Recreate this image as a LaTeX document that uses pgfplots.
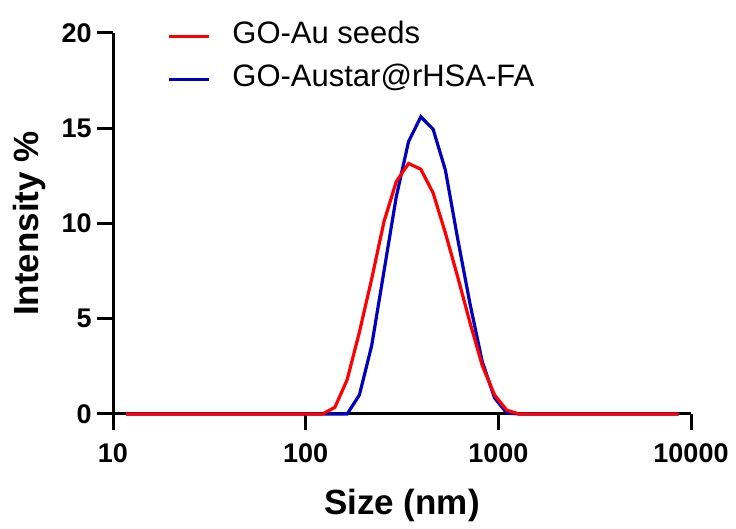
\documentclass[border=0pt]{standalone}
\usepackage{fontspec}
\setmainfont{Liberation Sans}
\usepackage{pgfplots}
\pgfplotsset{compat=1.18}
\definecolor{seedred}{RGB}{255,0,0}
\definecolor{starblue}{RGB}{0,0,190}

\begin{document}
\begin{tikzpicture}
    \begin{axis}[
            scale only axis,
            width = 578pt, height = 381pt,
            xmode = log, xmin = 10, xmax = 10000,
            ymin = 0, ymax = 20,
            xtick = {10,100,1000,10000}, xticklabels = {10,100,1000,10000},
            ytick = {0,5,10,15,20},
            xminorticks = false,
            axis x line = bottom, axis y line = left,
            axis line style = {-, line width=3pt},
            every tick/.style = {black, line width=3pt},
            tick align = outside, major tick length = 16pt,
            clip = false,
            /pgf/number format/assume math mode = true,
            tick label style = {font=\fontsize{27}{27}\selectfont\bfseries},
            xticklabel style = {yshift=-10pt},
            yticklabel style = {xshift=-2pt},
            xlabel = {Size (nm)}, ylabel = {Intensity \%},
            every axis x label/.style = {at={(axis description cs:0.5,0)}, yshift=-91pt, anchor=center,
                    font=\fontsize{35}{35}\selectfont\bfseries},
            every axis y label/.style = {at={(axis description cs:0,0.5)}, xshift=-84pt, rotate=90, anchor=center,
                    font=\fontsize{35}{35}\selectfont\bfseries},
            reverse legend,
            legend image code/.code = {\draw[#1] (0pt,0pt) -- (40pt,0pt);},
            legend style = {draw=none, fill=none, inner sep=0pt,
                    at={(axis description cs:0.0934,1.03)}, anchor=north west,
                    font=\fontsize{31}{31}\selectfont,
                    nodes={inner sep=0pt, text height=22pt, text depth=7pt},
                    row sep=14pt, column sep=22pt},
            legend cell align = {left},
        ]
        \coordinate (O) at (rel axis cs:0,0);
        %% GO-Austar@rHSA-FA (Malvern size bins)
        \addplot[starblue, line width=3.2pt] coordinates {
                (11.7, 0) (141.8, 0) (164.2, 0) (190.1, 1.0) (220.2, 3.6)
                (255.0, 7.5) (295.3, 11.4) (342.0, 14.3) (396.1, 15.6)
                (458.7, 14.95) (531.2, 12.8) (615.1, 9.2) (712.4, 5.8)
                (825.0, 2.75) (955.4, 0.85) (1106, 0.05) (1281, 0) (8635, 0)
            };
        %% GO-Au seeds
        \addplot[seedred, line width=3.2pt] coordinates {
                (11.7, 0) (122.4, 0) (141.8, 0.35) (164.2, 1.8) (190.1, 4.3)
                (220.2, 7.1) (255.0, 10.1) (295.3, 12.2) (342.0, 13.15)
                (396.1, 12.85) (458.7, 11.6) (531.2, 9.5) (615.1, 7.2)
                (712.4, 4.8) (825.0, 2.55) (955.4, 1.0) (1106, 0.2)
                (1281, 0) (8635, 0)
            };
        \legend{GO-Austar@rHSA-FA, GO-Au seeds}
    \end{axis}
    \path (O) ++(-113pt,-115pt) rectangle ++(736pt,529pt);
\end{tikzpicture}
\end{document}
